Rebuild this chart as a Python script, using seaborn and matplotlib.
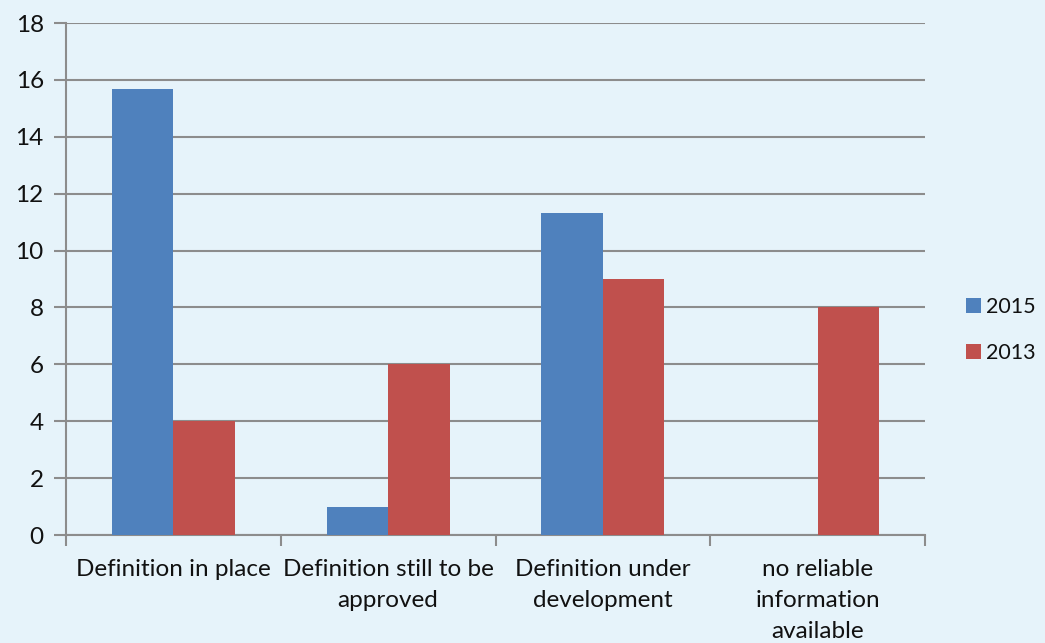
import matplotlib
matplotlib.use("Agg")
import matplotlib.pyplot as plt
import numpy as np
import pandas as pd
import seaborn as sns

# Data
categories = [
    "Definition in place",
    "Definition still to be\napproved",
    "Definition under\ndevelopment",
    "no reliable\ninformation\navailable",
]
years = ["2015", "2013"]
values_2015 = [15.67, 1, 11.33, 0]
values_2013 = [4, 6, 9, 8]
y_ticks = [0, 2, 4, 6, 8, 10, 12, 14, 16, 18]

df = pd.DataFrame({
    "category": categories * 2,
    "year": [years[0]] * len(categories) + [years[1]] * len(categories),
    "value": values_2015 + values_2013,
})

bg = "#E6F3FA"
grid_c = "#8C8C8C"
palette = {"2015": "#4F81BD", "2013": "#C0504D"}

sns.set_theme(style="white")
plt.rcParams["font.family"] = ["Lato", "DejaVu Sans"]

fig = plt.figure(figsize=(10.45, 6.43), dpi=100)
fig.patch.set_facecolor(bg)
ax = fig.add_axes([66 / 1045, 1 - 535 / 643, (925 - 66) / 1045, (535 - 23) / 643])
ax.set_facecolor(bg)

sns.barplot(data=df, x="category", y="value", hue="year", hue_order=years,
            order=categories, palette=palette, width=0.573, saturation=1,
            edgecolor="none", linewidth=0, ax=ax, legend=True, zorder=3)

ax.set_ylim(0, 18)
ax.set_xlim(-0.5, len(categories) - 0.5)
ax.set_yticks(y_ticks)
ax.set_yticklabels([str(v) for v in y_ticks], fontsize=17.5, color="#111111")
ax.yaxis.grid(True, color=grid_c, linewidth=1.5, zorder=0)
ax.set_axisbelow(True)

ax.set_xticks(range(len(categories)))
ax.set_xticklabels(categories, fontsize=17.5, color="#111111", linespacing=1.6)
ax.set_xticks(np.arange(-0.5, len(categories)), minor=True)
ax.tick_params(axis="x", which="major", length=0, pad=17)
ax.tick_params(axis="x", which="minor", length=8, width=1.5, color=grid_c, direction="out")
ax.tick_params(axis="y", length=9, width=1.5, color=grid_c, direction="out", pad=7)
ax.tick_params(left=True, bottom=True, which="both")

ax.set_xlabel("")
ax.set_ylabel("")
for side in ["top", "right"]:
    ax.spines[side].set_visible(False)
for side in ["left", "bottom"]:
    ax.spines[side].set_color(grid_c)
    ax.spines[side].set_linewidth(1.5)

leg = ax.legend(loc="center left", bbox_to_anchor=(966 / 1045, 1 - 330 / 643),
                bbox_transform=fig.transFigure, frameon=False, fontsize=15.5,
                handlelength=0.7, handleheight=0.7, handletextpad=0.25,
                labelspacing=1.2, borderaxespad=0, borderpad=0, title=None)
for t in leg.get_texts():
    t.set_color("#111111")

fig.savefig("out.png", dpi=100, facecolor=bg)
